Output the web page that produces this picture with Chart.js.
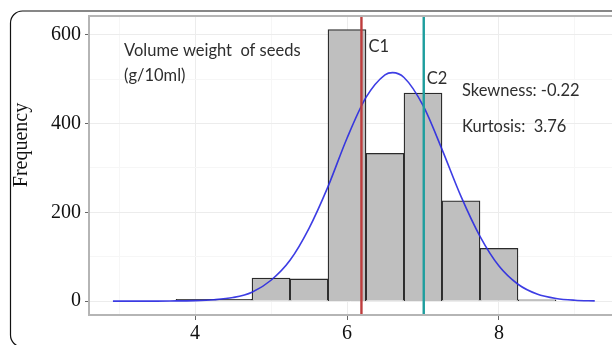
<!DOCTYPE html>
<html>
<head>
<meta charset="utf-8">
<script src="https://cdn.jsdelivr.net/npm/chart.js@4.4.1/dist/chart.umd.min.js"></script>
<style>
  html, body { margin: 0; padding: 0; background: #fff; overflow: hidden; }
  #wrap { width: 612px; height: 345px; position: relative; }
</style>
</head>
<body>
<div id="wrap"><canvas id="histChart" width="612" height="345"></canvas></div>
<script>
// histogram bins (bin width 0.5) and counts
var binCenters = [4.0, 4.5, 5.0, 5.5, 6.0, 6.5, 7.0, 7.5, 8.0, 8.5];
var binCounts = [4, 4, 52, 50, 612, 333, 469, 226, 119, 3];

// fitted normal curve
var curveX = [2.92, 3.25, 3.5, 3.75, 4.0, 4.25, 4.5, 4.75, 5.0, 5.25, 5.5, 5.75, 6.0, 6.25, 6.5, 6.6, 6.75, 7.0, 7.25, 7.5, 7.75, 8.0, 8.25, 8.5, 8.75, 9.0, 9.26];
var curveY = [0, 0, 0, 0.5, 1, 3, 8, 20, 47, 92, 164, 258, 367, 459, 510, 515, 504, 441, 342, 236, 146, 79, 38, 16, 6, 2, 0.5];

// cut-off lines
var cutNames = ['C1', 'C2'];
var cutValues = [6.19, 7.01];
var cutColors = ['#be3c3c', '#1e9e9e'];

// ticks
var xTicks = [4, 6, 8];
var xGrid = [3, 4, 5, 6, 7, 8, 9];
var yTicks = [0, 200, 400, 600];
var yGrid = [0, 100, 200, 300, 400, 500, 600];

var xMin = 2.605, xMax = 9.487;
var yMin = -31.3, yMax = 642.5;

var serif = '"Liberation Serif", "Times New Roman", serif';
var sans = 'Lato, "Open Sans", sans-serif';

var datasets = [
    {
        type: 'bar',
        data: binCenters.map(function (x, i) { return {x: x, y: binCounts[i]}; }),
        backgroundColor: '#bfbfbf',
        borderColor: '#2b2b2b',
        borderWidth: 1.3,
        barPercentage: 1,
        categoryPercentage: 1,
        order: 3
    },
    {
        type: 'line',
        data: curveX.map(function (x, i) { return {x: x, y: curveY[i]}; }),
        borderColor: 'rgba(40,40,225,0.9)',
        borderWidth: 1.6,
        pointRadius: 0,
        fill: false,
        cubicInterpolationMode: 'monotone',
        order: 2
    }
];
cutValues.forEach(function (v, i) {
    datasets.push({
        type: 'line',
        data: [{x: v, y: yMin}, {x: v, y: yMax}],
        borderColor: cutColors[i],
        borderWidth: 2.4,
        pointRadius: 0,
        fill: false,
        order: 1
    });
});

var annotate = {
    id: 'annotate',
    afterDraw: function (chart) {
        var ctx = chart.ctx;
        var a = chart.chartArea;
        var xs = chart.scales.x;
        ctx.save();

        // panel border: top, left, bottom
        ctx.strokeStyle = '#b5b5b5';
        ctx.lineWidth = 2;
        ctx.beginPath();
        ctx.moveTo(a.right + 5, a.top);
        ctx.lineTo(a.left, a.top);
        ctx.lineTo(a.left, a.bottom);
        ctx.lineTo(a.right + 5, a.bottom);
        ctx.stroke();

        // outer frame
        ctx.strokeStyle = '#111';
        ctx.lineWidth = 1.2;
        ctx.beginPath();
        ctx.roundRect(10.5, 11, 700, 336, 12);
        ctx.stroke();

        // axis title
        ctx.fillStyle = '#111';
        ctx.font = '20px ' + serif;
        ctx.textAlign = 'center';
        ctx.textBaseline = 'middle';
        ctx.translate(22, 145);
        ctx.rotate(-Math.PI / 2);
        ctx.fillText('Frequency', 0, 0);
        ctx.setTransform(1, 0, 0, 1, 0, 0);

        // text notes
        ctx.fillStyle = '#2e2e2e';
        ctx.font = '16.5px ' + sans;
        ctx.textAlign = 'left';
        ctx.fillText('Volume weight  of seeds', 124, 51);
        ctx.fillText('(g/10ml)', 124, 76);
        ctx.fillText('Skewness: -0.22', 462, 91);
        ctx.fillText('Kurtosis:  3.76', 462, 127);
        ctx.fillText(cutNames[0], xs.getPixelForValue(cutValues[0]) + 7, 47);
        ctx.fillText(cutNames[1], xs.getPixelForValue(cutValues[1]) + 3, 79);
        ctx.restore();
    }
};

var histChart = new Chart(document.getElementById('histChart'), {
    type: 'bar',
    data: {datasets: datasets},
    plugins: [annotate],
    options: {
        responsive: false,
        animation: false,
        events: [],
        layout: {padding: {top: 14, left: 0, right: 0, bottom: 0}},
        plugins: {
            legend: {display: false},
            tooltip: {enabled: false}
        },
        scales: {
            x: {
                type: 'linear',
                min: xMin,
                max: xMax,
                offset: false,
                afterBuildTicks: function (s) {
                    s.ticks = xGrid.map(function (v) { return {value: v}; });
                },
                afterFit: function (s) { s.height = 30; },
                grid: {
                    offset: false,
                    color: function (c) { return xTicks.indexOf(c.tick.value) >= 0 ? '#ececec' : '#f6f6f6'; },
                    tickColor: function (c) { return xTicks.indexOf(c.tick.value) >= 0 ? '#666' : 'rgba(0,0,0,0)'; },
                    tickLength: 5,
                    lineWidth: 1
                },
                border: {display: false},
                ticks: {
                    autoSkip: false,
                    maxRotation: 0,
                    padding: 2,
                    color: '#111',
                    font: {family: serif, size: 20},
                    callback: function (v) { return xTicks.indexOf(v) >= 0 ? String(v) : ''; }
                }
            },
            y: {
                type: 'linear',
                min: yMin,
                max: yMax,
                afterBuildTicks: function (s) {
                    s.ticks = yGrid.map(function (v) { return {value: v}; });
                },
                afterFit: function (s) { s.width = 89; },
                grid: {
                    color: function (c) { return yTicks.indexOf(c.tick.value) >= 0 ? '#ececec' : '#f6f6f6'; },
                    tickColor: function (c) { return yTicks.indexOf(c.tick.value) >= 0 ? '#666' : 'rgba(0,0,0,0)'; },
                    tickLength: 4,
                    lineWidth: 1
                },
                border: {display: false},
                ticks: {
                    autoSkip: false,
                    padding: 4,
                    color: '#111',
                    font: {family: serif, size: 20},
                    callback: function (v) { return yTicks.indexOf(v) >= 0 ? String(v) : ''; }
                }
            }
        }
    }
});
</script>
</body>
</html>
